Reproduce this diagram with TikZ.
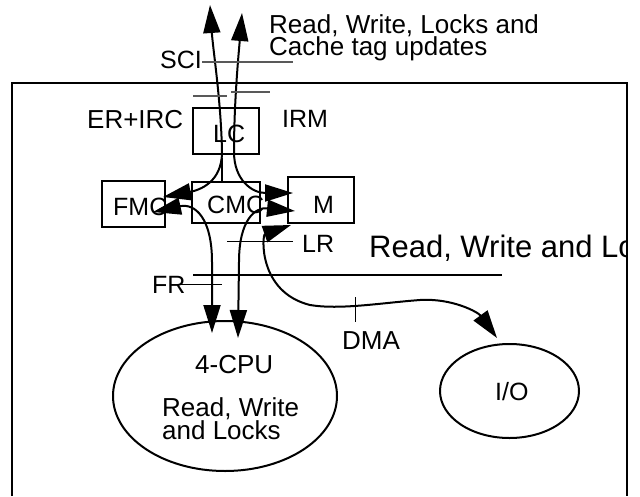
\documentclass[tikz,border=0pt]{standalone}
\usepackage{fontspec}
\setmainfont{Liberation Sans}
\usetikzlibrary{arrows.meta,shapes.geometric}
\begin{document}
\begin{tikzpicture}[x=1pt,y=-1pt,
  unit/.style={draw,line width=2pt,rectangle,inner sep=0pt},
  blob/.style={draw,line width=2pt,ellipse,inner sep=0pt},
  lbl/.style={anchor=base west,inner sep=0pt,font=\fontsize{25}{28}\selectfont},
  lblw/.style={anchor=base west,inner sep=0pt,font=\fontsize{26}{28}\selectfont},
  flow/.style={line width=2pt,{Triangle[length=28pt,width=17pt]}-{Triangle[length=28pt,width=17pt]}},
  tick/.style={line width=1pt},
  greytick/.style={line width=1.3pt,draw=black!65},
  bus/.style={line width=2pt}]
\useasboundingbox (0,0) rectangle (640,496);

% board outline
\draw[line width=1.2pt] (12,496) -- (12,83) -- (627,83) -- (627,496);

% functional units
\node[unit,minimum width=66pt,minimum height=46pt] (lc)  at (226,131)   {};
\node[unit,minimum width=63pt,minimum height=46pt] (fmc) at (133.5,204) {};
\node[unit,minimum width=68pt,minimum height=41pt] (cmc) at (226,202.5) {};
\node[unit,minimum width=66pt,minimum height=46pt] (mem) at (321,200)   {};
\node[blob,minimum width=224pt,minimum height=150pt] (cpu) at (225,396) {};
\node[blob,minimum width=139pt,minimum height=94pt]  (io)  at (509.5,391) {};

% unit labels
\node[lbl]  (lcT)   at (213,142) {LC};
\node[lbl]  (fmcT)  at (113,215) {FMC};
\node[lbl]  (cmcT)  at (207,213) {CMC};
\node[lbl]  (memT)  at (313,213) {M};
\node[lblw] (cpuT)  at (195,373) {4-CPU};
\node[lblw] (cpuA)  at (162,416) {Read, Write};
\node[lblw] (cpuB)  at (162,439) {and Locks};
\node[lbl]  (ioT)   at (495,400) {I/O};

% path labels
\node[lbl]  (sciT)  at (160,68)  {SCI};
\node[lblw] (erT)   at (87,128)  {ER+IRC};
\node[lbl]  (irmT)  at (282,127) {IRM};
\node[lbl]  (lrT)   at (302,252) {LR};
\node[lbl]  (frT)   at (152,293) {FR};
\node[lblw] (dmaT)  at (342,349) {DMA};
\node[lblw] (topA)  at (269,33)  {Read, Write, Locks and};
\node[lblw] (topB)  at (269,55)  {Cache tag updates};
\begin{scope}
  \clip (0,0) rectangle (627,496);
  \node[anchor=base west,inner sep=0pt,font=\fontsize{31}{34}\selectfont] (busT) at (369,257) {Read, Write and Locks};
\end{scope}

% arrow end points
\coordinate (sciL) at (210,5);
\coordinate (sciR) at (242,13);
\coordinate (fmcHi) at (163,197);
\coordinate (fmcLo) at (153,212);
\coordinate (memHi) at (293,193);
\coordinate (memLo) at (295,211);
\coordinate (memCorner) at (291,225);
\coordinate (cpuL) at (212,333);
\coordinate (cpuR) at (238,338);
\coordinate (ioTop) at (497,338);
\coordinate (junc) at (222,158);

% traffic paths
\draw[flow] (fmcHi) .. controls (200,190) and (222,182) .. (222,152) .. controls (221,100) and (213,50) .. (sciL);
\draw[bus] (cmc.north -| junc) -- (junc);
\draw[flow] (memHi) .. controls (252,193) and (234,180) .. (234,152) .. controls (234,100) and (239,50) .. (sciR);
\draw[flow] (fmcLo) .. controls (195,203) and (212,218) .. (212,262) -- (cpuL);
\draw[flow] (memLo) .. controls (255,207) and (239,220) .. (239,262) -- (cpuR);
\draw[flow] (memCorner) .. controls (262,235) and (258,292) .. (310,305) .. controls (340,310) and (380,303) .. (420,300) .. controls (452,298) and (478,312) .. (ioTop);

% bus line and tick marks
\draw[bus] (193,275) -- (502,275);
\draw[greytick] (202,62) -- (293,62);
\draw[greytick] (193,96) -- (227,96);
\draw[greytick] (231,92) -- (270,92);
\draw[tick] (227,241) -- (293,241);
\draw[tick] (180,284) -- (222,284);
\draw[tick] (355,297) -- (355,322);
\end{tikzpicture}
\end{document}
